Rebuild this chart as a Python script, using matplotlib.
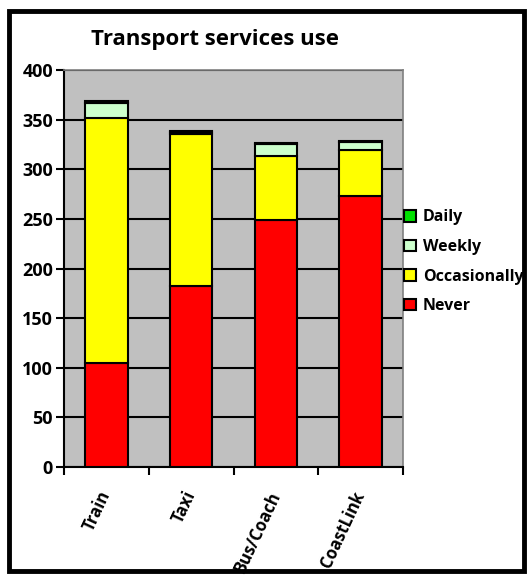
import matplotlib
matplotlib.use("Agg")
import matplotlib.pyplot as plt
from matplotlib.patches import Rectangle
import numpy as np

categories = ["Train", "Taxi", "Bus/Coach", "CoastLink"]
never = [105, 182, 249, 273]
occasionally = [247, 154, 64, 46]
weekly = [15, 2, 12, 8]
daily = [2, 1, 1, 1]
series_names = ["Never", "Occasionally", "Weekly", "Daily"]
series_colors = ["#FF0000", "#FFFF00", "#CCFFCC", "#00E000"]
yticks = [0, 50, 100, 150, 200, 250, 300, 350, 400]

plt.rcParams['font.family'] = ['Open Sans', 'DejaVu Sans']

fig = plt.figure(figsize=(5.31, 5.80), dpi=100)
ax = fig.add_axes([64/531, 1-467/580, (403-64)/531, (467-70)/580])
ax.set_facecolor("#C0C0C0")

x = np.arange(len(categories))
bottom = np.zeros(len(categories))
handles = []
for vals, name, col in zip([never, occasionally, weekly, daily], series_names, series_colors):
    b = ax.bar(x, vals, width=0.5, bottom=bottom, color=col, edgecolor="black",
               linewidth=1.5, label=name, zorder=3)
    handles.append(b)
    bottom += np.array(vals)

ax.set_ylim(0, 400)
ax.set_xlim(-0.5, len(categories) - 0.5)
ax.set_yticks(yticks)
ax.set_yticklabels([str(v) for v in yticks], fontsize=13, fontweight="bold")
ax.yaxis.grid(True, color="black", linewidth=1.5, zorder=1)
ax.set_axisbelow(True)

ax.set_xticks(np.arange(-0.5, len(categories)), minor=False)
ax.set_xticklabels([])
ax.set_xticks(x, minor=True)
ax.set_xticklabels(categories, minor=True, rotation=65, ha="right", va="center",
                   rotation_mode="anchor", fontsize=12, fontweight="bold")
ax.tick_params(axis="x", which="minor", length=0, pad=18)
ax.tick_params(axis="x", which="major", length=6, width=1.5, direction="out")
ax.tick_params(axis="y", length=6, width=1.5, direction="out", pad=2)

for s in ["left", "bottom"]:
    ax.spines[s].set_linewidth(1.5)
    ax.spines[s].set_color("black")
for s in ["top", "right"]:
    ax.spines[s].set_linewidth(1.2)
    ax.spines[s].set_color("#808080")

fig.text(215/531, 1-40/580, "Transport services use", ha="center", va="center",
         fontsize=16, fontweight="bold")

leg = fig.legend(handles[::-1], series_names[::-1], loc="upper left",
                 bbox_to_anchor=(390/531, 1-195/580), frameon=False,
                 prop={"weight": "bold", "size": 11.5}, handlelength=0.75,
                 handleheight=0.75, handletextpad=0.4, labelspacing=0.85)

fig.patches.append(Rectangle((9/531, 9/580), 1-16/531, 1-20/580, transform=fig.transFigure,
                             fill=False, edgecolor="black", linewidth=3.5, zorder=10))

fig.savefig("out.png", dpi=100)
